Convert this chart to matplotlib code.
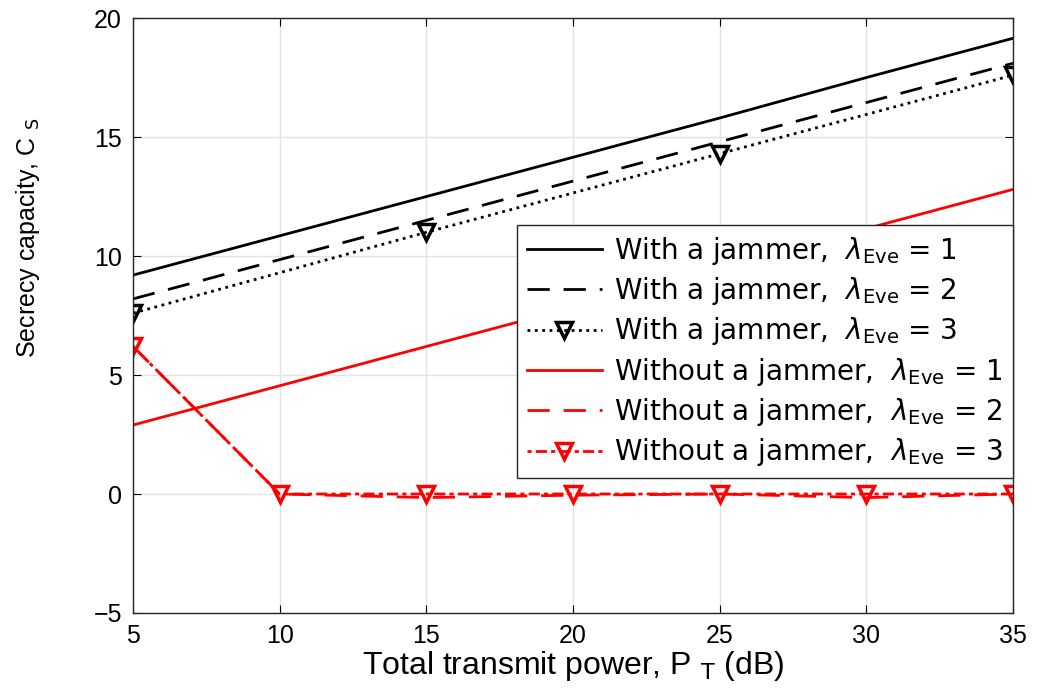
import numpy as np
import matplotlib
matplotlib.use('Agg')
import matplotlib.pyplot as plt

plt.rcParams['font.family'] = ['Liberation Sans', 'DejaVu Sans']
plt.rcParams['mathtext.fontset'] = 'custom'
plt.rcParams['mathtext.rm'] = 'DejaVu Sans'
plt.rcParams['mathtext.it'] = 'DejaVu Sans:italic'

# total transmit power (dB)
pt = [5, 10, 15, 20, 25, 30, 35]

# with a jammer
jam_1 = [9.2, 10.85, 12.5, 14.15, 15.8, 17.5, 19.15]
jam_2 = [8.2, 9.85, 11.5, 13.15, 14.8, 16.45, 18.1]
jam_3 = [7.6, 9.3, 11.0, 12.65, 14.3, 15.95, 17.6]

# without a jammer
nojam_1 = [2.9, 4.55, 6.2, 7.85, 9.5, 11.15, 12.8]
nojam_2 = [6.2, 0.0, -0.15, -0.05, 0.0, -0.15, 0.0]
nojam_3 = [6.2, 0.0, 0.0, 0.0, 0.0, 0.0, 0.0]

labels = [r'With a jammer,  $\lambda_{\mathrm{Eve}}$ = 1',
          r'With a jammer,  $\lambda_{\mathrm{Eve}}$ = 2',
          r'With a jammer,  $\lambda_{\mathrm{Eve}}$ = 3',
          r'Without a jammer,  $\lambda_{\mathrm{Eve}}$ = 1',
          r'Without a jammer,  $\lambda_{\mathrm{Eve}}$ = 2',
          r'Without a jammer,  $\lambda_{\mathrm{Eve}}$ = 3']

fig = plt.figure(figsize=(10.4, 6.95), dpi=100)
ax = fig.add_axes([0.128, 0.118, 0.846, 0.856])

lw = 2.0
ax.plot(pt, jam_1, '-', color='k', lw=lw, label=labels[0])
ax.plot(pt, jam_2, '--', color='k', lw=lw, dashes=(8, 5), label=labels[1])
ax.plot(pt, jam_3, ':', color='k', lw=lw, marker='v', ms=11, mfc='none', mew=2.5,
        markevery=2, label=labels[2])
ax.plot(pt, nojam_1, '-', color='r', lw=lw, label=labels[3])
ax.plot(pt, nojam_2, '--', color='r', lw=lw, dashes=(8, 5), label=labels[4])
ax.plot(pt, nojam_3, '-.', color='r', lw=lw, dashes=(1.5, 1.5, 4, 1.5), marker='v', ms=11,
        mfc='none', mew=2.5, label=labels[5])

ax.set_xlim(5, 35)
ax.set_ylim(-5, 20)
ax.set_xticks(pt)
ax.set_yticks([-5, 0, 5, 10, 15, 20])
ax.grid(True, color='#e3e3e3', lw=1)
ax.set_axisbelow(True)
ax.tick_params(direction='in', labelsize=18, length=6, top=True, right=True, pad=8)
for s in ax.spines.values():
    s.set_linewidth(1.0)
    s.set_color('#262626')

ax.set_xlabel(r'Total transmit power, P $_{\mathrm{T}}$ (dB)', fontsize=23, labelpad=1)
ax.set_ylabel(r'Secrecy capacity, C $_{\mathrm{S}}$', fontsize=18)
ax.yaxis.set_label_coords(-0.103, 0.63)

leg = ax.legend(loc='upper right', bbox_to_anchor=(1.0, 0.652), borderaxespad=0,
                prop={'family': 'DejaVu Sans', 'size': 20},
                handlelength=2.7, labelspacing=0.3, borderpad=0.35,
                fancybox=False, framealpha=1, edgecolor='#262626', handletextpad=0.45)
leg.get_frame().set_linewidth(1.0)

fig.savefig('out.png', dpi=100)
